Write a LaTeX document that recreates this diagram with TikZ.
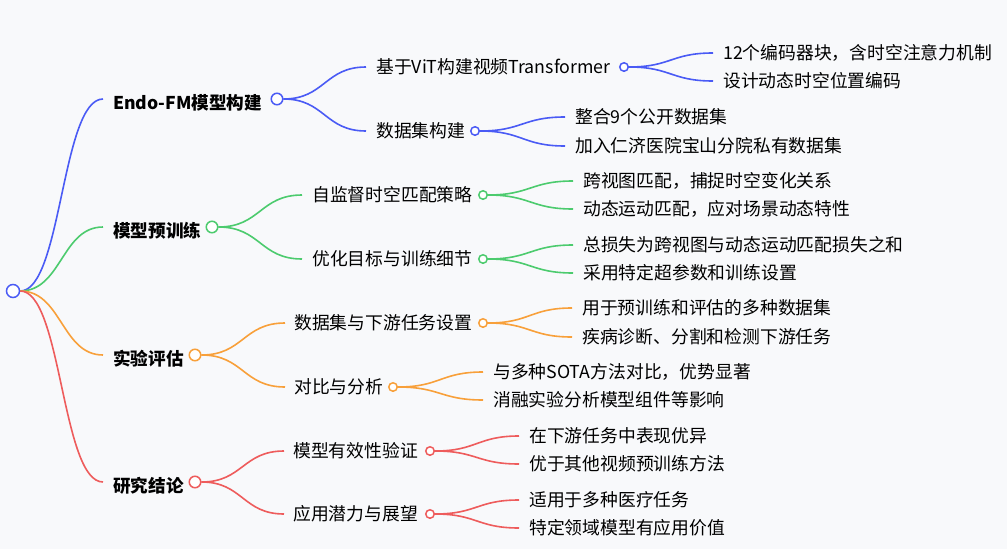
\documentclass[tikz,border=0pt]{standalone}
\usepackage{fontspec}
\setmainfont{Noto Sans CJK SC}
\usetikzlibrary{calc}
\definecolor{mmBlue}{HTML}{4A5BF5}
\definecolor{mmGreen}{HTML}{4CCB6E}
\definecolor{mmOrange}{HTML}{F8A03A}
\definecolor{mmRed}{HTML}{EE5C5C}
\definecolor{mmBg}{HTML}{F8F9FB}

\begin{document}
\begin{tikzpicture}[
  x=1pt, y=-1pt,
  dot/.style={circle, draw, fill=white, line width=1.5pt, minimum size=8.5pt, inner sep=0pt},
  bigdot/.style={dot, minimum size=11.5pt},
  topic/.style={anchor=west, inner sep=0pt, font=\fontsize{17.6}{20}\selectfont\bfseries},
  sub/.style={anchor=west, inner sep=0pt, font=\fontsize{17.8}{20}\selectfont},
  link/.style={line width=1.6pt, to path={let \p1=(\tikztostart), \p2=(\tikztotarget) in
    .. controls ({(\x1+\x2)/2},\y1) and ({(\x1+\x2)/2},\y2) .. (\tikztotarget)}}
]
  \fill[mmBg] (0,0) rectangle (1007,549);

  % root
  \node[dot, draw=mmBlue, minimum size=13pt] (root) at (13,291) {};

  % level 1
  \node[topic] (t1) at (113,103) {Endo-FM模型构建};
  \node[topic] (t2) at (113,231) {模型预训练};
  \node[topic] (t3) at (113,359) {实验评估};
  \node[topic] (t4) at (113,486) {研究结论};
  \node[bigdot, draw=mmBlue]   (c1) at (277,99) {};
  \node[bigdot, draw=mmGreen]  (c2) at (212,227) {};
  \node[bigdot, draw=mmOrange] (c3) at (195,355) {};
  \node[bigdot, draw=mmRed]    (c4) at (195,482) {};
  \coordinate (e1) at (103,99);
  \coordinate (e2) at (103,227);
  \coordinate (e3) at (103,355);
  \coordinate (e4) at (103,482);

  % level 2
  \node[sub] (s11) at (376,67)  {基于ViT构建视频Transformer};
  \node[sub] (s12) at (376,131) {数据集构建};
  \node[sub] (s21) at (312,195) {自监督时空匹配策略};
  \node[sub] (s22) at (312,259) {优化目标与训练细节};
  \node[sub] (s31) at (294,323) {数据集与下游任务设置};
  \node[sub] (s32) at (294,387) {对比与分析};
  \node[sub] (s41) at (293,451) {模型有效性验证};
  \node[sub] (s42) at (293,514) {应用潜力与展望};
  \node[dot, draw=mmBlue]   (d11) at (624,67)  {};
  \node[dot, draw=mmBlue]   (d12) at (475,131) {};
  \node[dot, draw=mmGreen]  (d21) at (483,195) {};
  \node[dot, draw=mmGreen]  (d22) at (483,259) {};
  \node[dot, draw=mmOrange] (d31) at (483,323) {};
  \node[dot, draw=mmOrange] (d32) at (393,387) {};
  \node[dot, draw=mmRed]    (d41) at (430,451) {};
  \node[dot, draw=mmRed]    (d42) at (430,514) {};
  \coordinate (f11) at (366,67);
  \coordinate (f12) at (366,131);
  \coordinate (f21) at (302,195);
  \coordinate (f22) at (302,259);
  \coordinate (f31) at (285,323);
  \coordinate (f32) at (285,387);
  \coordinate (f41) at (284,451);
  \coordinate (f42) at (284,514);

  % leaves
  \node[sub] (a1) at (723,53)  {12个编码器块，含时空注意力机制};
  \node[sub] (a2) at (723,81)  {设计动态时空位置编码};
  \node[sub] (b1) at (575,117) {整合9个公开数据集};
  \node[sub] (b2) at (575,146) {加入仁济医院宝山分院私有数据集};
  \node[sub] (g1) at (583,181) {跨视图匹配，捕捉时空变化关系};
  \node[sub] (g2) at (583,209) {动态运动匹配，应对场景动态特性};
  \node[sub] (h1) at (583,245) {总损失为跨视图与动态运动匹配损失之和};
  \node[sub] (h2) at (583,273) {采用特定超参数和训练设置};
  \node[sub] (o1) at (582,308) {用于预训练和评估的多种数据集};
  \node[sub] (o2) at (582,337) {疾病诊断、分割和检测下游任务};
  \node[sub] (p1) at (493,372) {与多种SOTA方法对比，优势显著};
  \node[sub] (p2) at (493,400) {消融实验分析模型组件等影响};
  \node[sub] (r1) at (529,436) {在下游任务中表现优异};
  \node[sub] (r2) at (529,464) {优于其他视频预训练方法};
  \node[sub] (q1) at (529,500) {适用于多种医疗任务};
  \node[sub] (q2) at (529,528) {特定领域模型有应用价值};
  \coordinate (ea1) at (713,53);
  \coordinate (ea2) at (713,81);
  \coordinate (eb1) at (565,117);
  \coordinate (eb2) at (565,146);
  \coordinate (eg1) at (573,181);
  \coordinate (eg2) at (573,209);
  \coordinate (eh1) at (573,245);
  \coordinate (eh2) at (573,273);
  \coordinate (eo1) at (572,308);
  \coordinate (eo2) at (572,337);
  \coordinate (ep1) at (483,372);
  \coordinate (ep2) at (483,400);
  \coordinate (er1) at (519,436);
  \coordinate (er2) at (519,464);
  \coordinate (eq1) at (519,500);
  \coordinate (eq2) at (519,528);

  % connectors
  \draw[link, mmBlue]   (root.east) to (e1);
  \draw[link, mmGreen]  (root.east) to (e2);
  \draw[link, mmOrange] (root.east) to (e3);
  \draw[link, mmRed]    (root.east) to (e4);

  \draw[link, mmBlue] (c1.east) to (f11);
  \draw[link, mmBlue] (c1.east) to (f12);
  \draw[link, mmGreen] (c2.east) to (f21);
  \draw[link, mmGreen] (c2.east) to (f22);
  \draw[link, mmOrange] (c3.east) to (f31);
  \draw[link, mmOrange] (c3.east) to (f32);
  \draw[link, mmRed] (c4.east) to (f41);
  \draw[link, mmRed] (c4.east) to (f42);

  \draw[link, mmBlue] (d11.east) to (ea1);
  \draw[link, mmBlue] (d11.east) to (ea2);
  \draw[link, mmBlue] (d12.east) to (eb1);
  \draw[link, mmBlue] (d12.east) to (eb2);
  \draw[link, mmGreen] (d21.east) to (eg1);
  \draw[link, mmGreen] (d21.east) to (eg2);
  \draw[link, mmGreen] (d22.east) to (eh1);
  \draw[link, mmGreen] (d22.east) to (eh2);
  \draw[link, mmOrange] (d31.east) to (eo1);
  \draw[link, mmOrange] (d31.east) to (eo2);
  \draw[link, mmOrange] (d32.east) to (ep1);
  \draw[link, mmOrange] (d32.east) to (ep2);
  \draw[link, mmRed] (d41.east) to (er1);
  \draw[link, mmRed] (d41.east) to (er2);
  \draw[link, mmRed] (d42.east) to (eq1);
  \draw[link, mmRed] (d42.east) to (eq2);
\end{tikzpicture}
\end{document}
